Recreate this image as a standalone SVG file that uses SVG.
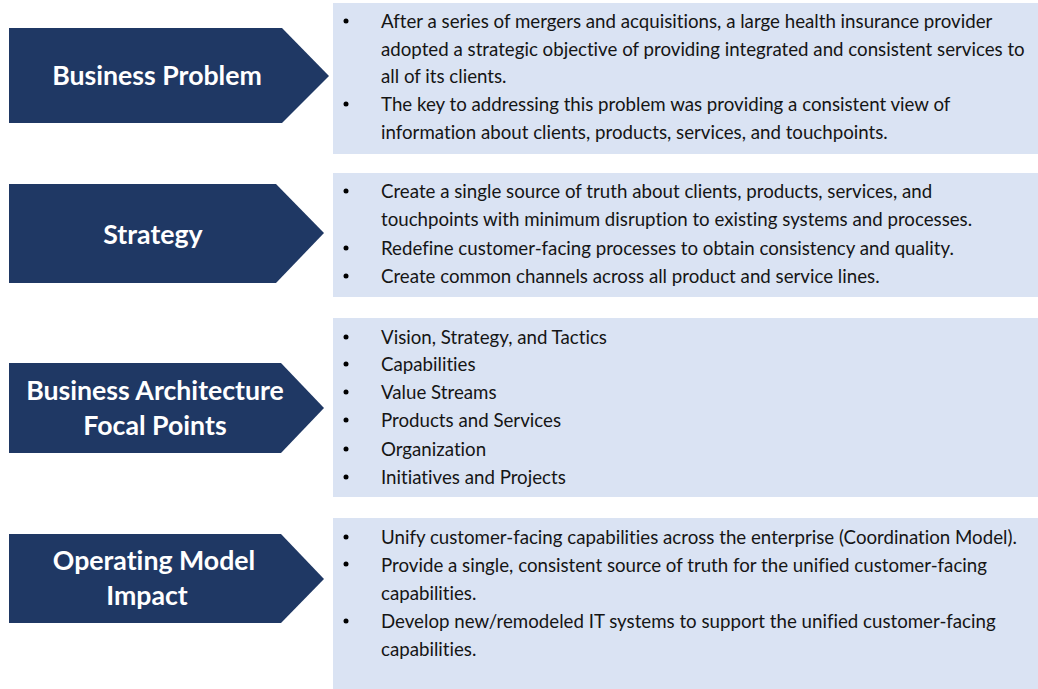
<svg xmlns="http://www.w3.org/2000/svg" width="1038" height="689" viewBox="0 0 1038 689">
<style>
.arrow{fill:#1f3864}
.panel{fill:#dae3f3}
.head{font-family:Lato,"Open Sans","Liberation Sans",sans-serif;font-weight:bold;font-size:26.7px;fill:#ffffff;text-anchor:middle;font-variant-ligatures:none}
.body{font-family:Lato,"Open Sans","Liberation Sans",sans-serif;font-size:18.7px;fill:#151515;font-variant-ligatures:none}
.dot{fill:#000000}
</style>
<rect width="1038" height="689" fill="#ffffff"/>
<g id="connectors"></g>
<g id="node-business-problem">
<polygon class="arrow" points="9,28 282,28 329,76 282,123 9,123"/>
<text class="head" x="157" y="85">Business Problem</text>
</g>
<g id="panel-business-problem">
<rect class="panel" x="333" y="3" width="705" height="151"/>
<circle class="dot" cx="346" cy="21" r="2.5"/>
<circle class="dot" cx="346" cy="104" r="2.5"/>
<text class="body" x="381" y="28">After a series of mergers and acquisitions, a large health insurance provider</text>
<text class="body" x="381" y="56">adopted a strategic objective of providing integrated and consistent services to</text>
<text class="body" x="381" y="83">all of its clients.</text>
<text class="body" x="381" y="111">The key to addressing this problem was providing a consistent view of</text>
<text class="body" x="381" y="139">information about clients, products, services, and touchpoints.</text>
</g>
<g id="node-strategy">
<polygon class="arrow" points="9,184 276,184 324,233 276,283 9,283"/>
<text class="head" x="153" y="244">Strategy</text>
</g>
<g id="panel-strategy">
<rect class="panel" x="333" y="173" width="705" height="124"/>
<circle class="dot" cx="346" cy="191" r="2.5"/>
<circle class="dot" cx="346" cy="248" r="2.5"/>
<circle class="dot" cx="346" cy="276" r="2.5"/>
<text class="body" x="381" y="198">Create a single source of truth about clients, products, services, and</text>
<text class="body" x="381" y="226">touchpoints with minimum disruption to existing systems and processes.</text>
<text class="body" x="381" y="255">Redefine customer-facing processes to obtain consistency and quality.</text>
<text class="body" x="381" y="283">Create common channels across all product and service lines.</text>
</g>
<g id="node-ba-focal-points">
<polygon class="arrow" points="9,363 281,363 324,408 281,453 9,453"/>
<text class="head" x="155" y="400">Business Architecture</text>
<text class="head" x="155" y="435">Focal Points</text>
</g>
<g id="panel-ba-focal-points">
<rect class="panel" x="333" y="318" width="705" height="179"/>
<circle class="dot" cx="346" cy="337" r="2.5"/>
<circle class="dot" cx="346" cy="364" r="2.5"/>
<circle class="dot" cx="346" cy="392" r="2.5"/>
<circle class="dot" cx="346" cy="420" r="2.5"/>
<circle class="dot" cx="346" cy="449" r="2.5"/>
<circle class="dot" cx="346" cy="477" r="2.5"/>
<text class="body" x="381" y="344">Vision, Strategy, and Tactics</text>
<text class="body" x="381" y="371">Capabilities</text>
<text class="body" x="381" y="399">Value Streams</text>
<text class="body" x="381" y="427">Products and Services</text>
<text class="body" x="381" y="456">Organization</text>
<text class="body" x="381" y="484">Initiatives and Projects</text>
</g>
<g id="node-operating-model-impact">
<polygon class="arrow" points="9,534 281,534 324,579 281,623 9,623"/>
<text class="head" x="154" y="570">Operating Model</text>
<text class="head" x="147" y="605">Impact</text>
</g>
<g id="panel-operating-model-impact">
<rect class="panel" x="333" y="518" width="705" height="171"/>
<circle class="dot" cx="346" cy="537" r="2.5"/>
<circle class="dot" cx="346" cy="564" r="2.5"/>
<circle class="dot" cx="346" cy="621" r="2.5"/>
<text class="body" x="381" y="544">Unify customer-facing capabilities across the enterprise (Coordination Model).</text>
<text class="body" x="381" y="572">Provide a single, consistent source of truth for the unified customer-facing</text>
<text class="body" x="381" y="600">capabilities.</text>
<text class="body" x="381" y="628">Develop new/remodeled IT systems to support the unified customer-facing</text>
<text class="body" x="381" y="656">capabilities.</text>
</g>
</svg>
